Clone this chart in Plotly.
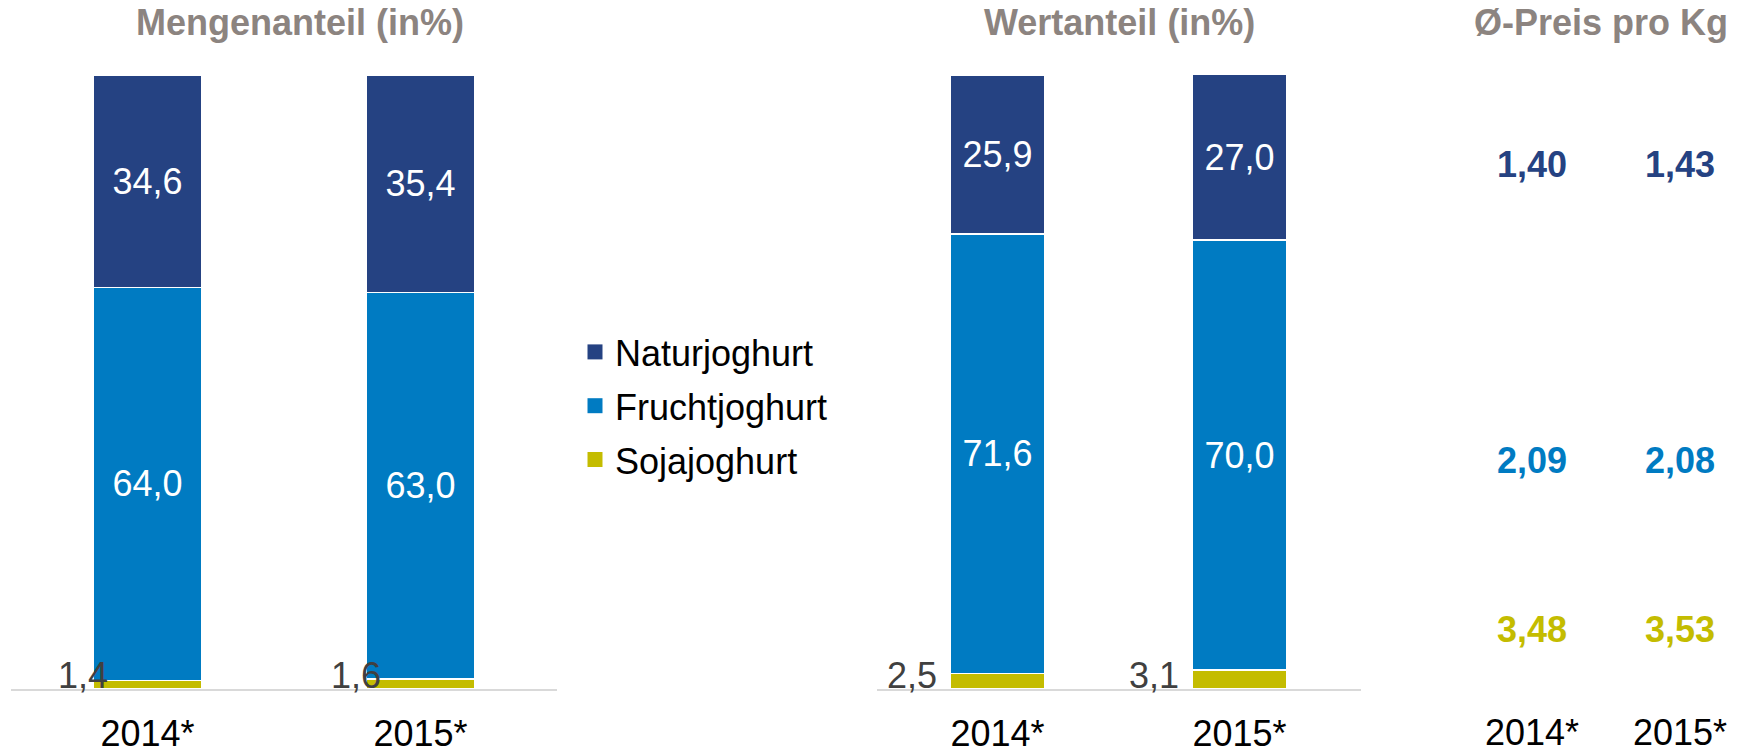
import plotly.graph_objects as go

# ---------------- data ----------------
years = ["2014*", "2015*"]
products = ["Naturjoghurt", "Fruchtjoghurt", "Sojajoghurt"]

menge_natur = [34.6, 35.4]
menge_frucht = [64.0, 63.0]
menge_soja = [1.4, 1.6]

wert_natur = [25.9, 27.0]
wert_frucht = [71.6, 70.0]
wert_soja = [2.5, 3.1]

preis_natur = [1.40, 1.43]
preis_frucht = [2.09, 2.08]
preis_soja = [3.48, 3.53]

# ---------------- style ----------------
FONT = "Liberation Sans, Arial, sans-serif"
C_NATUR = "#254282"
C_FRUCHT = "#007BC2"
C_SOJA = "#C4BC00"
C_TITLE = "#8C8480"
C_AXIS = "#D9D9D9"
C_SMALL = "#404040"
FS = 36
W, H = 1742, 742          # page has an 8px body margin
PLOT_TOP, PLOT_BOTTOM = 67, 681
PLOT_H = PLOT_BOTTOM - PLOT_TOP
PRICE_ROW_POS = [84.8, 36.6, 9.2]  # vertical placement of price rows (layout)
COLORS = {"Naturjoghurt": C_NATUR, "Fruchtjoghurt": C_FRUCHT, "Sojajoghurt": C_SOJA}

def py(px):  # figure pixel y -> paper y
    return (PLOT_BOTTOM - px) / PLOT_H

fig = go.Figure()

def stack(xa, ya, soja, frucht, natur, width):
    for name, vals in [("Sojajoghurt", soja), ("Fruchtjoghurt", frucht), ("Naturjoghurt", natur)]:
        inside = name != "Sojajoghurt"
        fig.add_trace(go.Bar(
            x=years, y=vals, name=name, xaxis=xa, yaxis=ya,
            width=width, marker=dict(color=COLORS[name], line=dict(color="white", width=1.5)),
            texttemplate="%{y:.1f}" if inside else "",
            textposition="inside" if inside else "none",
            insidetextanchor="middle",
            textfont=dict(color="white", size=FS, family=FONT),
            showlegend=False, hoverinfo="skip",
        ))

stack("x", "y", menge_soja, menge_frucht, menge_natur, 0.4)
stack("x2", "y2", wert_soja, wert_frucht, wert_natur, 0.39)

# legend entries (square swatches)
for rank, name in enumerate(products, start=1):
    fig.add_trace(go.Scatter(
        x=[None], y=[None], mode="markers", name=name, legendrank=rank,
        legendgroup=name,
        marker=dict(symbol="square", size=15, color=COLORS[name]),
        xaxis="x", yaxis="y", hoverinfo="skip",
    ))

# price columns
for vals, col, pos in [(preis_natur, C_NATUR, PRICE_ROW_POS[0]),
                       (preis_frucht, C_FRUCHT, PRICE_ROW_POS[1]),
                       (preis_soja, C_SOJA, PRICE_ROW_POS[2])]:
    fig.add_trace(go.Scatter(
        x=years, y=[pos] * len(years), customdata=vals, mode="text",
        texttemplate="%{customdata:.2f}", textposition="middle center",
        textfont=dict(color=col, size=FS, family=FONT, weight="bold"),
        xaxis="x3", yaxis="y3", showlegend=False, hoverinfo="skip",
    ))

# small Soja labels outside the bars
annotations = []
for xa, vals, xs, w in [("x", menge_soja, 17, 0.4), ("x2", wert_soja, -11, 0.39)]:
    for i, v in enumerate(vals):
        annotations.append(dict(
            x=i - w / 2, y=0, xref=xa, yref="y" if xa == "x" else "y2",
            text=f"{v:.1f}".replace(".", ","), showarrow=False,
            xanchor="right", yanchor="middle", xshift=xs, yshift=14,
            font=dict(size=FS, color=C_SMALL, family=FONT),
        ))

for txt, xc in [("Mengenanteil (in%)", 292), ("Wertanteil (in%)", 1111), ("Ø-Preis pro Kg", 1593)]:
    annotations.append(dict(
        x=xc / W, y=py(15), xref="paper", yref="paper", text=f"<b>{txt}</b>",
        showarrow=False, xanchor="center", yanchor="middle",
        font=dict(size=FS, color=C_TITLE, family=FONT),
    ))

xcommon = dict(type="category", showgrid=False, zeroline=False,
               ticks="outside", ticklen=12, tickcolor="rgba(0,0,0,0)",
               tickfont=dict(size=FS, color="black", family=FONT),
               automargin=False, fixedrange=True)
ycommon = dict(range=[0, 100], visible=False, fixedrange=True, domain=[0, 1])

fig.update_layout(
    width=W, height=H,
    margin=dict(l=0, r=0, t=PLOT_TOP, b=H - PLOT_BOTTOM),
    paper_bgcolor="white", plot_bgcolor="white",
    barmode="stack",
    separators=",.",
    font=dict(family=FONT, size=FS),
    xaxis=dict(domain=[3 / W, 549 / W], range=[-0.5, 1.5], showline=True,
               linecolor=C_AXIS, linewidth=2, anchor="y", **xcommon),
    xaxis2=dict(domain=[868.5 / W, 1352.5 / W], range=[-0.5, 1.5], showline=True,
                linecolor=C_AXIS, linewidth=2, anchor="y2", **xcommon),
    xaxis3=dict(domain=[1444.5 / W, 1.0], range=[-0.537, 1.473], showline=False,
                anchor="y3", **xcommon),
    yaxis=dict(anchor="x", **ycommon),
    yaxis2=dict(anchor="x2", **ycommon),
    yaxis3=dict(anchor="x3", **ycommon),
    legend=dict(x=567 / W, y=py(314), xanchor="left", yanchor="top",
                traceorder="grouped", tracegroupgap=4,
                font=dict(size=FS, color="black", family=FONT),
                bgcolor="rgba(0,0,0,0)"),
    annotations=annotations,
    showlegend=True,
)

fig.write_html("out.html")
